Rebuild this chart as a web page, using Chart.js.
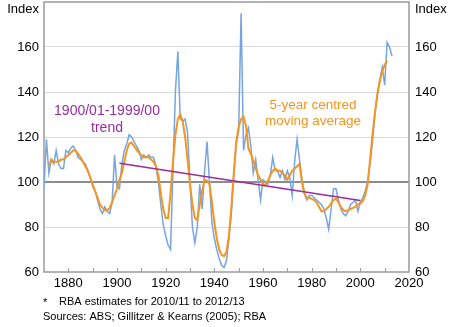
<!DOCTYPE html>
<html>
<head>
<meta charset="utf-8">
<script src="https://cdn.jsdelivr.net/npm/chart.js@4.4.0/dist/chart.umd.min.js"></script>
<style>
	html, body { margin: 0; padding: 0; background: #fff; }
	#wrap { width: 450px; height: 327px; }
</style>
</head>
<body>
<div id="wrap"><canvas id="tot-chart" width="450" height="327"></canvas></div>
<script>
// Terms of trade index, annual (years ending June), 1870 to 2013
const firstYear = 1870;
const annualIndex = [
	98, 119, 104, 110, 108, 114, 108, 106, 106, 114,
	113, 115, 116, 114, 111, 110, 109, 108, 105, 102,
	98, 96, 92, 88, 86, 89, 87, 86, 91, 112,
	98, 97, 108, 114, 117, 121, 120, 118, 116, 114,
	110, 112, 111, 112, 111, 111, 107, 100, 90, 81,
	76, 72, 70, 105, 140, 158, 128, 127, 128, 122,
	100, 80, 73, 80, 99, 88, 105, 118, 100, 82,
	75, 70, 66, 63, 62, 65, 75, 86, 103, 117,
	123, 175, 114, 121, 124, 116, 104, 110, 101, 92,
	101, 100, 99, 103, 111, 105, 105, 102, 105, 101,
	105, 102, 94, 109, 119, 110, 101, 95, 92, 94,
	94, 93, 92, 91, 90, 88, 84, 79, 88, 97,
	97, 92, 88, 86, 85, 87, 90, 91, 92, 87,
	91, 93, 96, 100, 108, 118, 130, 139, 145, 151,
	143, 162, 160, 156,
];

// 5-year centred moving average, 1872 to 2011
const maFirstYear = 1872;
const movingAverage = [
	107, 110, 109, 109, 109, 110, 110, 111,
	112, 113, 114, 114, 112.5, 111, 109, 107, 105, 102,
	99, 96, 93, 90, 88.5, 87.5, 87.5, 88.5, 91, 94,
	97, 101, 104, 109, 114, 117, 117.5, 116, 114.5, 113,
	112, 111, 111, 111, 110, 109, 107, 103, 95, 88,
	84, 84, 95, 109, 121, 128, 130, 127, 120, 110,
	99, 90, 84, 83, 90, 96, 101, 100.5, 99, 91,
	82, 75, 70, 67.5, 67, 69, 76, 89, 104, 118,
	124.5, 128, 129, 125, 115, 112.5, 109.5, 106, 103, 101,
	99, 98.7, 100.5, 103, 105, 106, 105, 105, 104, 103,
	101, 103, 105, 106, 107, 108, 100, 95, 93, 93,
	92.5, 92, 91, 89, 87, 87, 88, 89, 90.5, 92,
	92.5, 91, 89, 87.5, 87, 87.5, 88, 88.5, 89, 90,
	90.5, 91.5, 94, 99, 110, 121, 131, 139, 145, 149,
	152, 154,
];

// 1900/01-1999/00 trend
const trendYears = [1901, 2000];
const trendValues = [108.3, 91.8];

const xLabelYears = [1880, 1900, 1920, 1940, 1960, 1980, 2000, 2020];
const xTickYears = [1880, 1890, 1900, 1910, 1920, 1930, 1940, 1950, 1960, 1970, 1980, 1990, 2000, 2010];
const yTicks = [60, 80, 100, 120, 140, 160, 180];

const toPoints = (start, values) => values.map((v, i) => ({ x: start + i, y: v }));
const trendPoints = trendYears.map((yr, i) => ({ x: yr, y: trendValues[i] }));

Chart.defaults.font.family = '"Liberation Sans", Arial, sans-serif';
Chart.defaults.color = '#000';

const FONT = '"Liberation Sans", Arial, sans-serif';

// frame, inner ticks, labels and notes
const decor = {
	id: 'decor',
	beforeDatasetsDraw(chart) {
		const { ctx, chartArea: a, scales } = chart;
		ctx.save();
		ctx.strokeStyle = '#9a9a9a';
		ctx.lineWidth = 1;
		xTickYears.forEach(function (yr) {
			const px = Math.round(scales.x.getPixelForValue(yr)) + 0.5;
			ctx.beginPath();
			ctx.moveTo(px, a.bottom);
			ctx.lineTo(px, a.bottom - 4);
			ctx.stroke();
		});
		ctx.lineWidth = 1.5;
		ctx.strokeRect(a.left, a.top, a.right - a.left, a.bottom - a.top);
		ctx.restore();
	},
	afterDraw(chart) {
		const { ctx } = chart;
		ctx.save();
		ctx.textBaseline = 'middle';

		ctx.fillStyle = '#000';
		ctx.font = '13px ' + FONT;
		ctx.textAlign = 'right';
		ctx.fillText('Index', 39, 9);
		ctx.textAlign = 'left';
		ctx.fillText('Index', 415, 9);

		ctx.textAlign = 'center';
		ctx.font = '14px ' + FONT;
		ctx.fillStyle = '#9a2d9e';
		ctx.fillText('1900/01-1999/00', 107, 111);
		ctx.fillText('trend', 107, 128);

		ctx.font = '13.5px ' + FONT;
		ctx.fillStyle = '#f7941d';
		ctx.fillText('5-year centred', 313, 105);
		ctx.fillText('moving average', 313, 121);

		ctx.textAlign = 'left';
		ctx.font = '11px ' + FONT;
		ctx.fillStyle = '#000';
		ctx.fillText('*', 43, 303);
		ctx.fillText('RBA estimates for 2010/11 to 2012/13', 59, 302);
		ctx.fillText('Sources: ABS; Gillitzer & Kearns (2005); RBA', 43, 317);
		ctx.restore();
	},
};

const gridColor = (c) => {
	const v = c.tick && c.tick.value;
	if (v === 100) return '#8c8c8c';
	if (v === 60 || v === 180) return 'rgba(0,0,0,0)';
	return '#d9d9d9';
};
const gridWidth = (c) => (c.tick && c.tick.value === 100 ? 2 : 1);

const fitY = (w) => (s) => {
	s.width = w;
	s.paddingTop = 0;
	s.paddingBottom = 0;
};

new Chart(document.getElementById('tot-chart'), {
	type: 'line',
	data: {
		datasets: [
			{
				label: 'Trend',
				data: trendPoints,
				borderColor: '#9a2d9e',
				borderWidth: 1.6,
				pointRadius: 0,
				tension: 0,
			},
			{
				label: '5-year centred moving average',
				data: toPoints(maFirstYear, movingAverage),
				borderColor: '#f7941d',
				borderWidth: 2,
				pointRadius: 0,
				tension: 0,
			},
			{
				label: 'Index',
				data: toPoints(firstYear, annualIndex),
				borderColor: '#76a5e0',
				borderWidth: 1.5,
				pointRadius: 0,
				tension: 0,
			},
		],
	},
	options: {
		responsive: false,
		animation: false,
		devicePixelRatio: 1,
		layout: { padding: { top: 2, left: 0, right: 0, bottom: 0 } },
		plugins: {
			legend: { display: false },
			tooltip: { enabled: false },
		},
		scales: {
			x: {
				type: 'linear',
				min: 1870,
				max: 2020,
				afterBuildTicks: (s) => { s.ticks = xLabelYears.map((v) => ({ value: v })); },
				afterFit: (s) => {
					s.height = 55;
					s.paddingLeft = 0;
					s.paddingRight = 0;
				},
				grid: { display: false, drawTicks: false },
				border: { display: false },
				ticks: {
					font: { size: 13 },
					padding: 4,
					maxRotation: 0,
					autoSkip: false,
					callback: (v) => String(v),
				},
			},
			y: {
				position: 'left',
				min: 60,
				max: 180,
				afterBuildTicks: (s) => { s.ticks = yTicks.map((v) => ({ value: v })); },
				afterFit: fitY(44),
				grid: { color: gridColor, lineWidth: gridWidth, drawTicks: false },
				border: { display: false },
				ticks: {
					font: { size: 13 },
					padding: 5,
					callback: (v) => (v === 180 ? '' : String(v)),
				},
			},
			y2: {
				position: 'right',
				min: 60,
				max: 180,
				afterBuildTicks: (s) => { s.ticks = yTicks.map((v) => ({ value: v })); },
				afterFit: fitY(41),
				grid: { drawOnChartArea: false, drawTicks: false },
				border: { display: false },
				ticks: {
					font: { size: 13 },
					padding: 6,
					callback: (v) => (v === 180 ? '' : String(v)),
				},
			},
		},
	},
	plugins: [decor],
});
</script>
</body>
</html>
